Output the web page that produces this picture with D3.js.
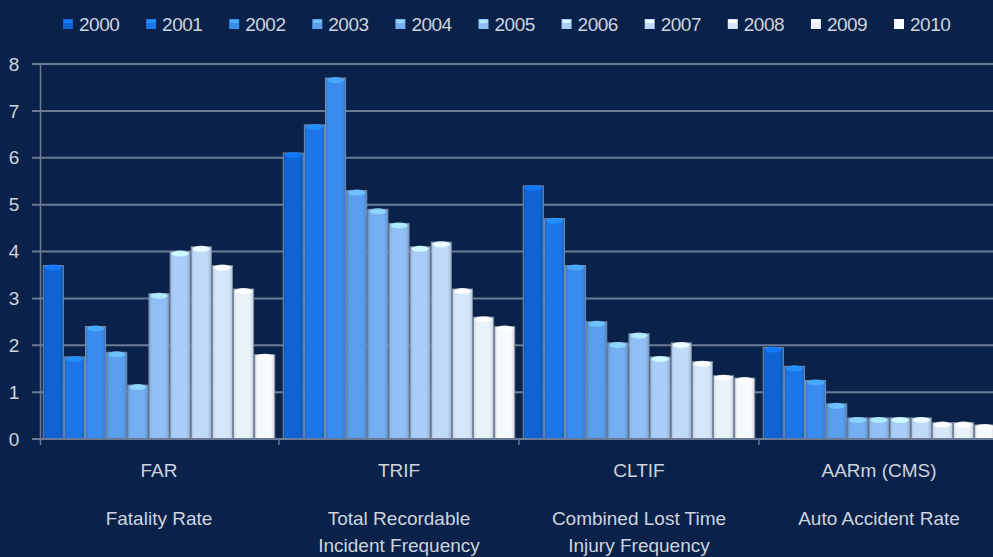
<!DOCTYPE html>
<html>
<head>
<meta charset="utf-8">
<script src="https://cdn.jsdelivr.net/npm/d3@7"></script>
<style>
  html, body { margin: 0; padding: 0; background: #0a2249; overflow: hidden; }
  svg { display: block; }
</style>
</head>
<body>
<svg id="chart" width="993" height="557"></svg>
<script>
// Safety indicators by year
const categories = ["FAR", "TRIF", "CLTIF", "AARm (CMS)"];
const descriptions = [
  ["Fatality Rate"],
  ["Total Recordable", "Incident Frequency"],
  ["Combined Lost Time", "Injury Frequency"],
  ["Auto Accident Rate"]
];
const years = ["2000", "2001", "2002", "2003", "2004", "2005", "2006", "2007", "2008", "2009", "2010"];
const farValues   = [3.7, 1.75, 2.4, 1.85, 1.15, 3.1, 4.0, 4.1, 3.7, 3.2, 1.8];
const trifValues  = [6.1, 6.7, 7.7, 5.3, 4.9, 4.6, 4.1, 4.2, 3.2, 2.6, 2.4];
const cltifValues = [5.4, 4.7, 3.7, 2.5, 2.05, 2.25, 1.75, 2.05, 1.65, 1.35, 1.3];
const aarmValues  = [1.95, 1.55, 1.25, 0.75, 0.45, 0.45, 0.45, 0.45, 0.35, 0.35, 0.3];
const yTicks = [0, 1, 2, 3, 4, 5, 6, 7, 8];
const yearColors = ["#1063d3", "#1c76e8", "#3a8bee", "#5a9ef0", "#75aff2", "#8fbff4",
                    "#a9cdf6", "#c0daf7", "#d6e6f9", "#e9f1fb", "#f6f9fd"];

const seriesByCategory = [farValues, trifValues, cltifValues, aarmValues];

const svg = d3.select("#chart");
const textColor = "#cdd4df";
const gridColor = "#6b7b96";

const x0 = d3.scaleBand().domain(categories).range([39, 999]).padding(0);
const x1 = d3.scaleBand().domain(years).range([0, x0.bandwidth()])
  .paddingInner(0.05).paddingOuter(0.2);
const y = d3.scaleLinear().domain([0, 8]).range([439, 64]);
const color = d3.scaleOrdinal().domain(years).range(yearColors);

// Gradients for the cylindrical look of each bar
const defs = svg.append("defs");
years.forEach((yr, i) => {
  const base = d3.color(yearColors[i]);
  const g = defs.append("linearGradient").attr("id", "g" + yr)
    .attr("x1", "0%").attr("x2", "100%").attr("y1", "0%").attr("y2", "0%");
  g.append("stop").attr("offset", "0%").attr("stop-color", base.darker(0.35));
  g.append("stop").attr("offset", "15%").attr("stop-color", base);
  g.append("stop").attr("offset", "80%").attr("stop-color", base);
  g.append("stop").attr("offset", "100%").attr("stop-color", base.darker(0.4));
});

// Horizontal gridlines with tick stubs
svg.append("g").selectAll("line").data(yTicks.slice(1)).join("line")
  .attr("x1", 32).attr("x2", 999)
  .attr("y1", d => y(d)).attr("y2", d => y(d))
  .attr("stroke", gridColor).attr("stroke-width", 2);

// Y axis labels
svg.append("g").selectAll("text").data(yTicks).join("text")
  .attr("x", 14).attr("y", d => y(d))
  .attr("dy", "0.35em")
  .attr("text-anchor", "middle")
  .attr("fill", textColor)
  .style("font-family", "'Liberation Sans', Arial, sans-serif")
  .style("font-size", "19px")
  .text(d => d);

// Bars
const groups = svg.append("g").selectAll("g").data(categories).join("g")
  .attr("transform", d => `translate(${x0(d)},0)`);

groups.each(function(cat, ci) {
  const vals = seriesByCategory[ci].map((v, i) => ({ year: years[i], value: v }));
  const g = d3.select(this);
  g.selectAll("rect").data(vals).join("rect")
    .attr("x", d => x1(d.year))
    .attr("y", d => y(d.value))
    .attr("width", x1.bandwidth())
    .attr("height", d => y(0) - y(d.value))
    .attr("fill", d => `url(#g${d.year})`)
    .attr("stroke", "#7c8ba3")
    .attr("stroke-width", 1);
  // Highlight cap at the top of each bar
  g.selectAll("ellipse").data(vals).join("ellipse")
    .attr("cx", d => x1(d.year) + x1.bandwidth() / 2)
    .attr("cy", d => y(d.value) + 2)
    .attr("rx", x1.bandwidth() / 2 - 1.5)
    .attr("ry", 3)
    .attr("fill", d => d3.color(color(d.year)).brighter(0.6))
    .attr("opacity", 0.9);
});

// Baseline and vertical axis
svg.append("line")
  .attr("x1", 32).attr("x2", 999).attr("y1", y(0)).attr("y2", y(0))
  .attr("stroke", gridColor).attr("stroke-width", 2);
svg.append("line")
  .attr("x1", 40.5).attr("x2", 40.5).attr("y1", y(8)).attr("y2", y(0) + 6)
  .attr("stroke", gridColor).attr("stroke-width", 1.5);

// Category boundary ticks
svg.append("g").selectAll("line").data(categories.slice(1)).join("line")
  .attr("x1", d => x0(d)).attr("x2", d => x0(d))
  .attr("y1", y(0)).attr("y2", y(0) + 6)
  .attr("stroke", gridColor).attr("stroke-width", 1.5);

// Category labels and descriptions
const labelFont = "'Liberation Sans Narrow', 'Arial Narrow', 'Liberation Sans', sans-serif";
groups.append("text")
  .attr("x", x0.bandwidth() / 2).attr("y", 477)
  .attr("text-anchor", "middle")
  .attr("fill", textColor)
  .style("font-family", labelFont)
  .style("font-size", "19px")
  .text(d => d);

groups.each(function(cat, ci) {
  d3.select(this).selectAll("text.desc").data(descriptions[ci]).join("text")
    .attr("class", "desc")
    .attr("x", x0.bandwidth() / 2)
    .attr("y", (d, i) => 525 + i * 27)
    .attr("text-anchor", "middle")
    .attr("fill", textColor)
    .style("font-family", labelFont)
    .style("font-size", "19px")
    .text(d => d);
});

// Legend
const legend = svg.append("g").selectAll("g").data(years).join("g")
  .attr("transform", (d, i) => `translate(${63 + i * 83.1},24)`);
legend.append("rect")
  .attr("x", 0).attr("y", -5).attr("width", 10).attr("height", 10)
  .attr("fill", d => color(d));
legend.append("rect")
  .attr("x", 1).attr("y", -4).attr("width", 8).attr("height", 3)
  .attr("fill", d => d3.color(color(d)).brighter(0.6));
legend.append("text")
  .attr("x", 16).attr("y", 0).attr("dy", "0.35em")
  .attr("fill", textColor)
  .style("font-family", "'Liberation Sans', Arial, sans-serif")
  .style("font-size", "19px")
  .style("letter-spacing", "-0.5px")
  .text(d => d);
</script>
</body>
</html>
